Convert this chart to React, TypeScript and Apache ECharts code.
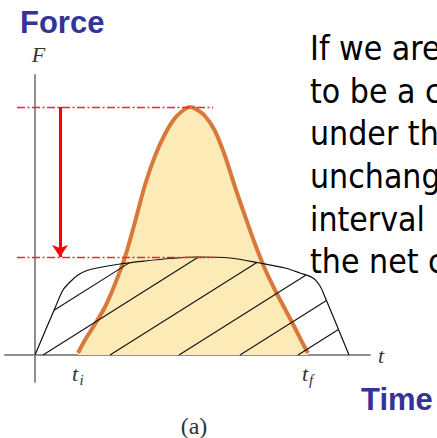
import React, { useEffect, useRef } from "react";
import * as echarts from "echarts";

// Short impulse F(t): time measured from the origin, force above the time axis
const pulseTime = [43, 50, 60, 70, 80, 90, 100, 110, 120, 130, 140, 150, 155, 160, 170, 180, 190, 200, 210, 220, 230, 240, 250, 260, 267, 273];
const pulseForce = [2, 15, 31, 48, 71, 98, 133, 170, 199, 221, 237, 246, 248, 246.5, 239, 224, 199, 168, 139, 111, 86, 65, 46, 27, 13, 2];

// Longer, flatter pulse with the same area (hatched outline)
const hatchTime = [0, 20, 28, 35, 43, 52, 62, 85, 110, 135, 162, 195, 225, 250, 265, 278, 285, 290, 314];
const hatchForce = [0, 47, 65, 73, 80, 84.5, 87, 91, 94, 96.5, 98, 97, 92, 87, 82, 77, 69, 58, 0];

// Hatch lines: where each one leaves the time axis, and their common slope
const hatchOffsets = [-52, 8, 75, 144, 205, 263];
const hatchSlope = 0.63;

// Horizontal reference lines span this time range
const guideRange = [-18, 178];
const arrowTime = 25;

const paragraphLines = ["If we are", "to be a constant", "under the", "unchanged", "interval", "the net constant"];

function hatchSegments(): number[][][] {
  const poly = hatchTime.map((t, i) => [t, hatchForce[i]]);
  poly.push(poly[0]); // close the outline along the time axis
  return hatchOffsets.map((b) => {
    const hits: number[][] = [];
    for (let i = 0; i < poly.length - 1; i++) {
      const [t1, f1] = poly[i];
      const [t2, f2] = poly[i + 1];
      const g1 = f1 - hatchSlope * (t1 - b);
      const g2 = f2 - hatchSlope * (t2 - b);
      if (g1 === g2) continue;
      if ((g1 <= 0 && g2 >= 0) || (g1 >= 0 && g2 <= 0)) {
        const u = g1 / (g1 - g2);
        hits.push([t1 + u * (t2 - t1), f1 + u * (f2 - f1)]);
      }
    }
    hits.sort((a, c) => a[0] - c[0]);
    return [hits[0], hits[hits.length - 1]];
  });
}

export default function App() {
  const ref = useRef<HTMLDivElement>(null);

  useEffect(() => {
    if (!ref.current) return;
    const chart = echarts.init(ref.current, undefined, { renderer: "svg" });

    const peak = Math.max(...pulseForce);
    const plateau = Math.max(...hatchForce);
    const axisStyle = { onZero: true, lineStyle: { color: "#8f8f8f", width: 2 } };

    chart.setOption({
      animation: false,
      grid: { left: 5, top: 75, width: 365, height: 307 },
      xAxis: {
        type: "value",
        min: -30,
        max: 335,
        axisLine: axisStyle,
        axisTick: { show: false },
        axisLabel: { show: false },
        splitLine: { show: false },
      },
      yAxis: {
        type: "value",
        min: -27,
        max: 280,
        axisLine: axisStyle,
        axisTick: { show: false },
        axisLabel: { show: false },
        splitLine: { show: false },
      },
      series: [
        {
          type: "line",
          data: pulseTime.map((t, i) => [t, pulseForce[i]]),
          smooth: 0.3,
          symbol: "none",
          lineStyle: { color: "#d8783a", width: 4 },
          areaStyle: { color: "#fdebb7", opacity: 1 },
          z: 2,
        },
        {
          type: "line",
          data: hatchTime.map((t, i) => [t, hatchForce[i]]),
          smooth: 0.3,
          symbol: "none",
          lineStyle: { color: "#111", width: 1.2 },
          z: 3,
        },
        {
          type: "lines",
          coordinateSystem: "cartesian2d",
          data: hatchSegments().map((seg) => ({ coords: seg })),
          lineStyle: { color: "#111", width: 1.1, opacity: 1 },
          z: 3,
        },
        {
          type: "lines",
          coordinateSystem: "cartesian2d",
          data: [peak, plateau].map((f) => ({
            coords: [[guideRange[0], f], [guideRange[1], f]],
            lineStyle: { color: "#f02828", width: 1.3, type: [8, 2.5, 2, 2.5], opacity: 1 },
          })),
          lineStyle: { color: "#f02828", width: 1.3, type: [8, 2.5, 2, 2.5], opacity: 1 },
          z: 4,
        },
        {
          type: "lines",
          coordinateSystem: "cartesian2d",
          data: [{ coords: [[arrowTime, peak], [arrowTime, plateau]] }],
          symbol: ["none", "arrow"],
          symbolSize: 12,
          lineStyle: { color: "#ff0000", width: 3, opacity: 1 },
          z: 5,
        },
      ],
    });

    const [tiX, axisY] = chart.convertToPixel({ gridIndex: 0 }, [pulseTime[0], 0]);
    const [tfX] = chart.convertToPixel({ gridIndex: 0 }, [pulseTime[pulseTime.length - 1], 0]);
    const [originX] = chart.convertToPixel({ gridIndex: 0 }, [0, 0]);

    const serif = "'Liberation Serif', 'DejaVu Serif', serif";
    const mathText = (x: number, y: number, text: string, size: number, align = "center") => ({
      type: "text",
      x,
      y,
      z: 10,
      style: {
        text,
        fontFamily: serif,
        fontStyle: "italic",
        fontSize: size,
        fill: "#333",
        align,
        verticalAlign: "middle",
      },
    });

    const heading = (x: number, y: number, text: string) => ({
      type: "text",
      x,
      y,
      z: 10,
      style: {
        text,
        fontFamily: "'Liberation Sans', Arial, sans-serif",
        fontWeight: "bold",
        fontSize: 31,
        fill: "#333399",
        verticalAlign: "middle",
      },
    });

    chart.setOption({
      graphic: [
        heading(20, 22.5, "Force"),
        heading(361, 399, "Time"),
        {
          type: "text",
          x: 310,
          y: 27,
          z: 10,
          style: {
            text: paragraphLines.join("\n"),
            fontFamily: "'DejaVu Sans Condensed', 'DejaVu Sans', sans-serif",
            fontSize: 33.5,
            lineHeight: 42.7,
            fill: "#000",
            verticalAlign: "top",
          },
        },
        mathText(originX + 3.5, 54.6, "F", 22),
        mathText(381, axisY, "t", 22),
        mathText(tiX - 3, 373.6, "t", 22),
        mathText(tiX + 1.5, 380, "i", 15, "left"),
        mathText(tfX - 3, 373.6, "t", 22),
        mathText(tfX + 1, 380, "f", 15, "left"),
        {
          type: "text",
          x: 194,
          y: 426,
          z: 10,
          style: {
            text: "(a)",
            fontFamily: serif,
            fontSize: 24,
            fill: "#333",
            align: "center",
            verticalAlign: "middle",
          },
        },
      ],
    });

    return () => chart.dispose();
  }, []);

  return (
    <div
      ref={ref}
      style={{ position: "absolute", left: 0, top: 0, width: 437, height: 438, overflow: "hidden", background: "#fff" }}
    />
  );
}
